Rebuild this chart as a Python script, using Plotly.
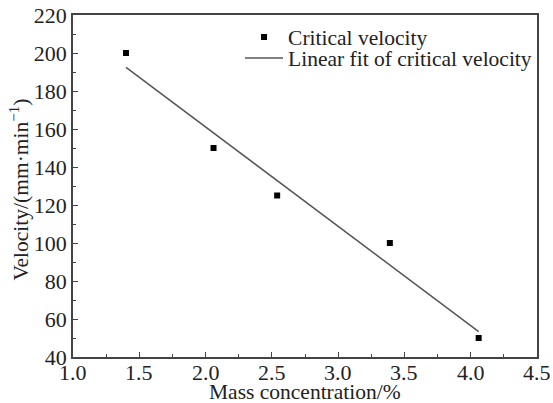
import numpy as np
import plotly.graph_objects as go

mass_conc = [1.40, 2.06, 2.54, 3.39, 4.06]
velocity = [200, 150, 125, 100, 50]

x_ticks = [1.0, 1.5, 2.0, 2.5, 3.0, 3.5, 4.0, 4.5]
x_tick_labels = ["1.0", "1.5", "2.0", "2.5", "3.0", "3.5", "4.0", "4.5"]
y_ticks = [40, 60, 80, 100, 120, 140, 160, 180, 200, 220]

x_title = "Mass concentration/%"
y_title = "Velocity/(mm·min<sup>−1</sup>)"

slope, intercept = np.polyfit(mass_conc, velocity, 1)
fit_x = [min(mass_conc), max(mass_conc)]
fit_y = [slope * v + intercept for v in fit_x]

FONT = "Liberation Serif, Times New Roman, serif"
TXT = 21.5
TICK = 22
TCOL = "#222222"

fig = go.Figure()
fig.add_trace(go.Scatter(
    x=mass_conc, y=velocity, mode="markers", name="Critical velocity",
    marker=dict(symbol="square", size=6, color="black"), legend="legend",
    showlegend=True,
))
fig.add_trace(go.Scatter(
    x=fit_x, y=fit_y, mode="lines", name="Linear fit of critical velocity",
    line=dict(color="#555555", width=1.5), legend="legend2", showlegend=True,
))

axis_common = dict(
    showgrid=False, zeroline=False, showline=True, linecolor="#444444", linewidth=1.5,
    mirror=True, ticks="inside", ticklen=5, tickwidth=1.2, tickcolor="#444444",
    tickfont=dict(family=FONT, size=TICK, color=TCOL), automargin=False,
)

fig.update_xaxes(
    range=[1.0, 4.5], tickvals=x_ticks, showticklabels=False,
    minor=dict(dtick=0.25, ticks="inside", ticklen=3, tickcolor="#444444", tickwidth=1.2),
    **axis_common,
)
fig.update_yaxes(
    range=[40, 220], tickvals=y_ticks, ticktext=[str(v) for v in y_ticks],
    minor=dict(dtick=10, ticks="inside", ticklen=3, tickcolor="#444444", tickwidth=1.2),
    **axis_common,
)

# x tick labels placed just below the axis, at the axis' own data positions
for v, lab in zip(x_ticks, x_tick_labels):
    fig.add_annotation(text=lab, x=v, xref="x", yref="paper", y=-0.044,
                       xanchor="center", yanchor="middle", showarrow=False,
                       font=dict(family=FONT, size=TICK, color=TCOL))

fig.add_annotation(text=x_title, xref="paper", yref="paper", x=0.5, y=-0.102,
                   xanchor="center", yanchor="middle", showarrow=False,
                   font=dict(family=FONT, size=TXT, color=TCOL))
fig.add_annotation(text=y_title, xref="paper", yref="paper", x=-0.116, y=0.49,
                   xanchor="center", yanchor="middle", showarrow=False, textangle=-90,
                   font=dict(family=FONT, size=TXT, color=TCOL))

leg_common = dict(xanchor="left", yanchor="middle", bgcolor="rgba(0,0,0,0)",
                  font=dict(family=FONT, size=TXT, color=TCOL), itemwidth=38,
                  borderwidth=0)
fig.update_layout(
    width=553, height=403,
    margin=dict(l=73, r=16, t=15, b=46),
    paper_bgcolor="white", plot_bgcolor="white", showlegend=True,
    legend=dict(x=0.36, y=0.9357, **leg_common),
    legend2=dict(x=0.36, y=0.8743, **leg_common),
)

fig.write_html("out.html")
